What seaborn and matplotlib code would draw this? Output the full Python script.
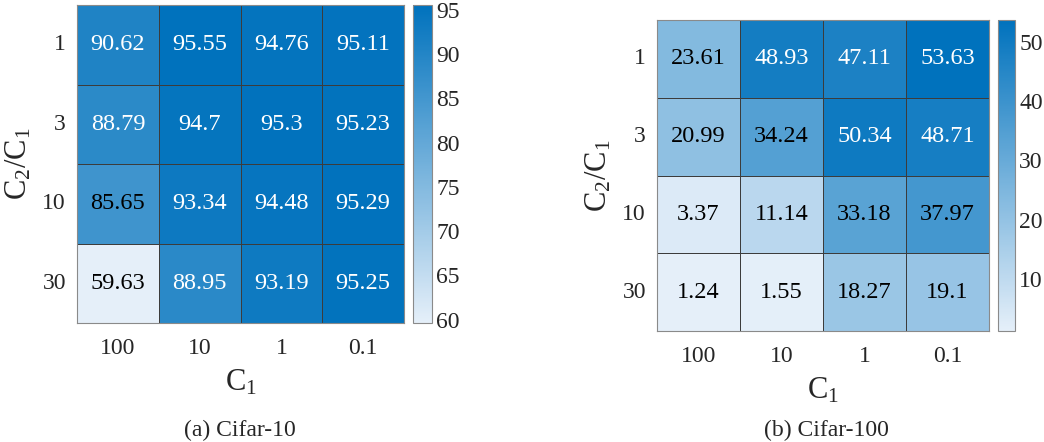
import numpy as np
import pandas as pd
import matplotlib
matplotlib.use("Agg")
import matplotlib.pyplot as plt
from matplotlib.colors import LinearSegmentedColormap, Normalize
import seaborn as sns

# Hyper-parameter grid
c1_labels = ["100", "10", "1", "0.1"]
ratio_labels = ["1", "3", "10", "30"]

# Test accuracy (%) for each (C2/C1, C1) pair
cifar10_acc = [
    [90.62, 95.55, 94.76, 95.11],
    [88.79, 94.70, 95.30, 95.23],
    [85.65, 93.34, 94.48, 95.29],
    [59.63, 88.95, 93.19, 95.25],
]
cifar100_acc = [
    [23.61, 48.93, 47.11, 53.63],
    [20.99, 34.24, 50.34, 48.71],
    [3.37, 11.14, 33.18, 37.97],
    [1.24, 1.55, 18.27, 19.10],
]
cifar10_ticks = [60, 65, 70, 75, 80, 85, 90, 95]
cifar100_ticks = [10, 20, 30, 40, 50]
captions = ["(a) Cifar-10", "(b) Cifar-100"]

sns.set_theme(style="white")
plt.rcParams["font.family"] = ["Liberation Serif", "DejaVu Serif"]
plt.rcParams["mathtext.fontset"] = "custom"
plt.rcParams["mathtext.rm"] = "Liberation Serif"
plt.rcParams["mathtext.it"] = "Liberation Serif:italic"

blues = LinearSegmentedColormap.from_list("sky", ["#e5eff9", "#0072bd"])

W, H = 1044, 442
fig = plt.figure(figsize=(W / 100, H / 100), dpi=100)


def px_axes(x0, y0, x1, y1):
    return fig.add_axes([x0 / W, 1 - y1 / H, (x1 - x0) / W, (y1 - y0) / H])


def draw(data, ticks, hm_box, cb_box, caption, cap_x):
    ax = px_axes(*hm_box)
    cax = px_axes(*cb_box)
    df = pd.DataFrame(data, index=ratio_labels, columns=c1_labels)
    arr = np.array(data)
    vmin, vmax = arr.min(), arr.max()
    labels = np.vectorize(lambda v: f"{v:g}")(arr)
    sns.heatmap(df, ax=ax, cbar_ax=cax, cmap=blues, vmin=vmin, vmax=vmax,
                annot=labels, fmt="", linewidths=0.6, linecolor="#3c3c3c",
                annot_kws={"fontsize": 17.5})
    norm = Normalize(vmin, vmax)
    for txt, v in zip(ax.texts, arr.ravel()):
        txt.set_color("white" if norm(v) > 0.77 else "black")
    for side in ax.spines.values():
        side.set_visible(True)
        side.set_color("#8a8a8a")
        side.set_linewidth(0.8)
    ax.tick_params(length=0, labelsize=17, pad=11)
    ax.tick_params(axis="y", pad=8)
    ax.set_yticklabels(ratio_labels, rotation=0)
    ax.set_xlabel(r"$\mathrm{C}_1$", fontsize=22, labelpad=6)
    ax.set_ylabel(r"$\mathrm{C}_2/\mathrm{C}_1$", fontsize=22, labelpad=6)

    cbar = ax.collections[0].colorbar
    cbar.set_ticks(ticks)
    cbar.outline.set_edgecolor("#8a8a8a")
    cbar.outline.set_linewidth(0.8)
    cax.tick_params(axis="y", right=True, direction="in", length=3,
                    width=0.6, color="#555555", labelsize=17, pad=3)

    fig.text(cap_x / W, 1 - 430 / H, caption, ha="center", va="center",
             fontsize=17)


draw(cifar10_acc, cifar10_ticks, (77, 5, 404, 323), (413, 5, 432, 323),
     captions[0], 240)
draw(cifar100_acc, cifar100_ticks, (657, 20, 989, 331), (998, 20, 1015, 331),
     captions[1], 826)

fig.savefig("out.png", dpi=100)
